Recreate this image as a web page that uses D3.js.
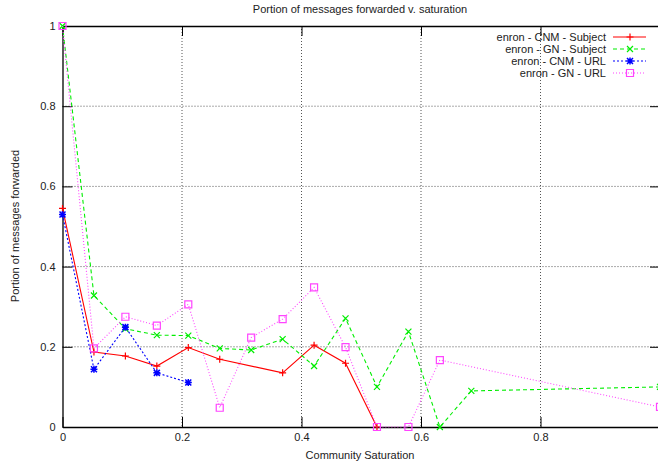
<!DOCTYPE html>
<html lang="en">
<head>
<meta charset="utf-8">
<script src="https://d3js.org/d3.v7.min.js"></script>
<style>
  body { margin: 0; background: #fff; }
  text { font-family: "Liberation Sans", Arial, sans-serif; fill: #222; }
</style>
</head>
<body>
<svg id="chart" width="658" height="463"></svg>
<script>
// saturation steps (k/19)
var xCnmSubject = [0, 1/19, 2/19, 3/19, 4/19, 5/19, 7/19, 8/19, 9/19, 10/19];
var yCnmSubject = [0.545, 0.187, 0.177, 0.152, 0.198, 0.169, 0.135, 0.204, 0.159, 0];

var xGnSubject = [0, 1/19, 2/19, 3/19, 4/19, 5/19, 6/19, 7/19, 8/19, 9/19, 10/19, 11/19, 12/19, 13/19, 1];
var yGnSubject = [1, 0.328, 0.245, 0.229, 0.228, 0.196, 0.192, 0.219, 0.152, 0.271, 0.100, 0.238, 0, 0.090, 0.100];

var xCnmUrl = [0, 1/19, 2/19, 3/19, 4/19];
var yCnmUrl = [0.53, 0.144, 0.249, 0.135, 0.111];

var xGnUrl = [0, 1/19, 2/19, 3/19, 4/19, 5/19, 6/19, 7/19, 8/19, 9/19, 10/19, 11/19, 12/19, 1];
var yGnUrl = [1, 0.196, 0.275, 0.253, 0.306, 0.048, 0.223, 0.269, 0.348, 0.199, 0, 0, 0.167, 0.05];

var seriesNames = ["enron - CNM - Subject", "enron - GN - Subject", "enron - CNM - URL", "enron - GN - URL"];
var xTicks = [0, 0.2, 0.4, 0.6, 0.8];
var yTicks = [0, 0.2, 0.4, 0.6, 0.8, 1];

var series = [
  { name: seriesNames[0], xs: xCnmSubject, ys: yCnmSubject, color: "#ff0000", dash: null, marker: "plus" },
  { name: seriesNames[1], xs: xGnSubject, ys: yGnSubject, color: "#00ee00", dash: "4,3", marker: "cross" },
  { name: seriesNames[2], xs: xCnmUrl, ys: yCnmUrl, color: "#0000ff", dash: "2,2", marker: "star" },
  { name: seriesNames[3], xs: xGnUrl, ys: yGnUrl, color: "#ff44ff", dash: "1,2", marker: "square" }
];

var svg = d3.select("#chart");
var pLeft = 62.5, pRight = 660, pTop = 26, pBottom = 427;

var x = d3.scaleLinear().domain([0, 1]).range([pLeft, pRight]);
var y = d3.scaleLinear().domain([0, 1]).range([pBottom, pTop]);

// grid
svg.append("g").selectAll("line").data(xTicks.slice(1)).enter().append("line")
  .attr("x1", d => x(d)).attr("x2", d => x(d)).attr("y1", pTop).attr("y2", pBottom)
  .attr("stroke", "#555").attr("stroke-dasharray", "1,2");
svg.append("g").selectAll("line").data(yTicks.slice(1, -1)).enter().append("line")
  .attr("y1", d => y(d)).attr("y2", d => y(d)).attr("x1", pLeft).attr("x2", pRight)
  .attr("stroke", "#555").attr("stroke-dasharray", "1,2");

// axes, ticks inside and mirrored
var xAxis = d3.axisBottom(x).tickValues(xTicks).tickSizeInner(-10).tickSizeOuter(0).tickPadding(6)
  .tickFormat(d3.format("~g"));
var yAxis = d3.axisLeft(y).tickValues(yTicks).tickSizeInner(-10).tickSizeOuter(0).tickPadding(7)
  .tickFormat(d3.format("~g"));
var gx = svg.append("g").attr("transform", "translate(0," + pBottom + ")").call(xAxis);
var gy = svg.append("g").attr("transform", "translate(" + pLeft + ",0)").call(yAxis);
var gxTop = svg.append("g").attr("transform", "translate(0," + pTop + ")")
  .call(d3.axisTop(x).tickValues(xTicks).tickSizeInner(-10).tickSizeOuter(0).tickFormat(""));
var gyRight = svg.append("g").attr("transform", "translate(" + pRight + ",0)")
  .call(d3.axisRight(y).tickValues(yTicks).tickSizeInner(-10).tickSizeOuter(0).tickFormat(""));
[gx, gy, gxTop, gyRight].forEach(function (g) {
  g.select(".domain").attr("stroke", "#000").attr("stroke-width", 1.3);
  g.selectAll(".tick line").attr("stroke", "#000");
  g.selectAll("text").attr("font-size", "11px").attr("font-family", "Liberation Sans, Arial, sans-serif").attr("fill", "#222");
});

// lines
var line = d3.line().x(d => x(d[0])).y(d => y(d[1]));
var symbolPath = {
  plus: "M-3.5,0H3.5M0,-3.5V3.5",
  cross: "M-3,-3L3,3M-3,3L3,-3",
  star: "M-3.5,0H3.5M0,-3.5V3.5M-3,-3L3,3M-3,3L3,-3",
  square: "M-3.5,-3.5H3.5V3.5H-3.5Z"
};

series.forEach(function (s) {
  var pts = s.xs.map((v, i) => [v, s.ys[i]]);
  svg.append("path").datum(pts)
    .attr("d", line).attr("fill", "none")
    .attr("stroke", s.color).attr("stroke-width", 1.1)
    .attr("stroke-dasharray", s.dash);
  svg.append("g").selectAll("path").data(pts).enter().append("path")
    .attr("transform", d => "translate(" + x(d[0]) + "," + y(d[1]) + ")")
    .attr("d", symbolPath[s.marker])
    .attr("fill", "none").attr("stroke", s.color).attr("stroke-width", s.marker === "star" ? 1.5 : 1.2);
});

// legend
var legend = svg.append("g");
series.forEach(function (s, i) {
  var ly = 37 + i * 12;
  legend.append("text").attr("x", 606).attr("y", ly + 4).attr("text-anchor", "end")
    .attr("font-size", "11px").text(s.name);
  legend.append("line").attr("x1", 613).attr("x2", 646).attr("y1", ly).attr("y2", ly)
    .attr("stroke", s.color).attr("stroke-width", 1.1).attr("stroke-dasharray", s.dash);
  legend.append("path").attr("transform", "translate(630," + ly + ")")
    .attr("d", symbolPath[s.marker]).attr("fill", "none")
    .attr("stroke", s.color).attr("stroke-width", s.marker === "star" ? 1.5 : 1.2);
});

// titles
svg.append("text").attr("x", 360).attr("y", 13).attr("text-anchor", "middle")
  .attr("font-size", "11px").text("Portion of messages forwarded v. saturation");
svg.append("text").attr("x", 360).attr("y", 459).attr("text-anchor", "middle")
  .attr("font-size", "11px").text("Community Saturation");
svg.append("text").attr("transform", "translate(19,226) rotate(-90)").attr("text-anchor", "middle")
  .attr("font-size", "11px").text("Portion of messages forwarded");
</script>
</body>
</html>
